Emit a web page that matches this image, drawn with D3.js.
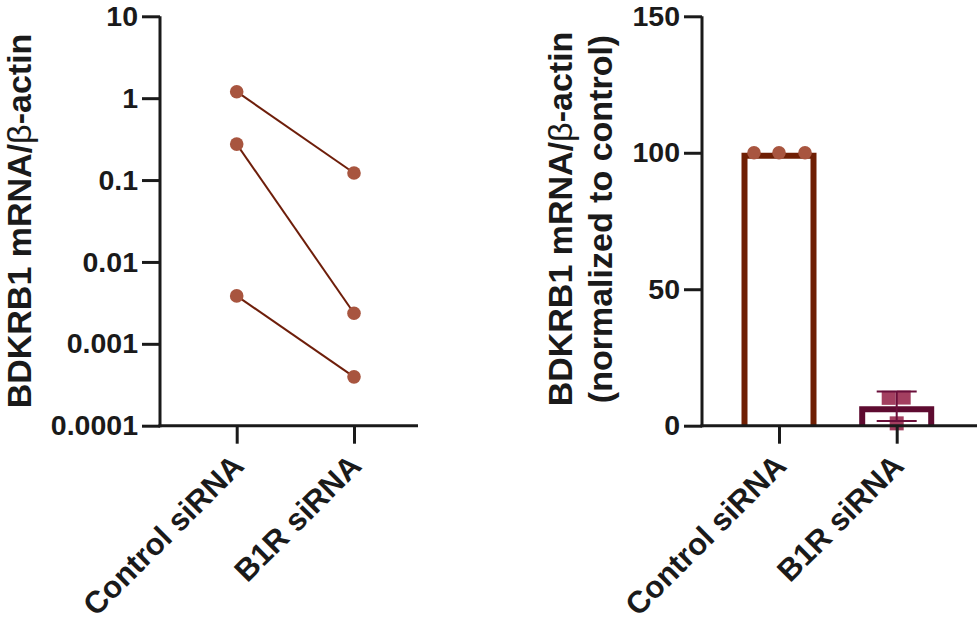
<!DOCTYPE html>
<html>
<head>
<meta charset="utf-8">
<script src="https://cdn.jsdelivr.net/npm/d3@7"></script>
<style>
  html, body { margin: 0; padding: 0; background: #fff; }
  svg { display: block; font-family: "Liberation Sans", Arial, Helvetica, sans-serif; }
</style>
</head>
<body>
<svg id="chart" width="980" height="621"></svg>
<script>
// ---------- data ----------
const categories = ["Control siRNA", "B1R siRNA"];
// left panel: paired raw values (three experiments)
const controlRaw = [1.2, 0.275, 0.00385];
const b1rRaw = [0.122, 0.00236, 0.000395];
const logTickValues = [10, 1, 0.1, 0.01, 0.001, 0.0001];
const logTickLabels = ["10", "1", "0.1", "0.01", "0.001", "0.0001"];
// right panel: normalized values (% of control)
const controlNorm = [100, 100, 100];
const b1rNorm = [10.2, 0.86, 10.3];
const linTickValues = [0, 50, 100, 150];
const jitterControl = [-25, 0, 26];
const jitterB1R = [-8, 0, 7];

const svg = d3.select("#chart");
const tickFont = 28.5, catFont = 31, labelFont = 34;
const axisColor = "#1a1a1a";

function styleAxis(g) {
  g.selectAll("path.domain").remove();
  g.selectAll("line").attr("stroke", axisColor).attr("stroke-width", 3);
  g.selectAll("text").attr("font-size", tickFont).attr("font-weight", "bold").attr("fill", axisColor);
}

function catLabels(g, xs, yAxis) {
  g.selectAll("text.cat").data(categories).join("text")
    .attr("class", "cat")
    .attr("transform", d => `translate(${xs(d) + 9},${yAxis + 42}) rotate(-45)`)
    .attr("text-anchor", "end")
    .attr("font-size", catFont).attr("font-weight", "bold").attr("fill", axisColor)
    .text(d => d);
}

function yLabel(g, x, yc, lines) {
  const t = g.append("text")
    .attr("transform", `translate(${x},${yc}) rotate(-90)`)
    .attr("text-anchor", "middle")
    .attr("font-size", labelFont).attr("font-weight", "bold").attr("fill", axisColor);
  lines.forEach((ln, i) => {
    const ts = t.append("tspan").attr("x", 0).attr("dy", i === 0 ? 0 : 40);
    ts.append("tspan").text(ln[0]);
    if (ln.length > 1) {
      ts.append("tspan").attr("font-weight", "normal").text(ln[1]);
      ts.append("tspan").text(ln[2]);
    }
  });
}

// ---------- left panel (log scale) ----------
{
  const x0 = 160, x1 = 418, yTop = 16.3, yBot = 425.7;
  const y = d3.scaleLog().domain([1e-4, 10]).range([yBot, yTop]);
  const x = d3.scalePoint().domain(categories).range([236.7, 354]);
  const g = svg.append("g");

  g.append("line").attr("x1", x0).attr("x2", x0).attr("y1", yTop).attr("y2", yBot + 1.5)
    .attr("stroke", axisColor).attr("stroke-width", 3);
  g.append("line").attr("x1", x0 - 1.5).attr("x2", x1).attr("y1", yBot).attr("y2", yBot)
    .attr("stroke", axisColor).attr("stroke-width", 3);

  const ya = g.append("g").attr("transform", `translate(${x0},0)`)
    .call(d3.axisLeft(y).tickValues(logTickValues).tickFormat((d, i) => logTickLabels[i]).tickSize(18).tickPadding(4));
  styleAxis(ya);
  const xa = g.append("g").attr("transform", `translate(0,${yBot})`)
    .call(d3.axisBottom(x).tickSize(18).tickFormat(""));
  styleAxis(xa);
  catLabels(g, x, yBot);

  controlRaw.forEach((c, i) => {
    g.append("line")
      .attr("x1", x(categories[0])).attr("y1", y(c))
      .attr("x2", x(categories[1])).attr("y2", y(b1rRaw[i]))
      .attr("stroke", "#6e1e0a").attr("stroke-width", 2);
  });
  const pts = controlRaw.map(v => [categories[0], v]).concat(b1rRaw.map(v => [categories[1], v]));
  g.selectAll("circle.pt").data(pts).join("circle")
    .attr("cx", d => x(d[0])).attr("cy", d => y(d[1])).attr("r", 6.8)
    .attr("fill", "#a8553f");

  yLabel(g, 31, 221, [["BDKRB1 mRNA/", "β", "-actin"]]);
}

// ---------- right panel (linear) ----------
{
  const x0 = 702, x1 = 977, yTop = 16.3, yBot = 425.7;
  const y = d3.scaleLinear().domain([0, 150]).range([yBot, yTop]);
  const x = d3.scalePoint().domain(categories).range([779, 896.7]);
  const g = svg.append("g");
  const barW = 75, sw = 6;

  const means = [d3.mean(controlNorm), d3.mean(b1rNorm)];
  const sds = [d3.deviation(controlNorm) || 0, d3.deviation(b1rNorm)];
  const barColors = ["#6f1f04", "#5e0b30"];

  // bars: open outline (stroke inside), bottom covered by axis
  means.forEach((m, i) => {
    const cx = x(categories[i]);
    const l = cx - barW / 2 + sw / 2, r = cx + barW / 2 - sw / 2, t = y(m) + sw / 2;
    g.append("path")
      .attr("d", `M${l},${yBot}V${t}H${r}V${yBot}`)
      .attr("fill", "none").attr("stroke", barColors[i]).attr("stroke-width", sw)
      .attr("stroke-linejoin", "miter");
  });

  g.selectAll("circle.pt").data(controlNorm).join("circle")
    .attr("cx", (d, i) => x(categories[0]) + jitterControl[i]).attr("cy", d => y(d)).attr("r", 6.8)
    .attr("fill", "#a8553f");
  const sq = 14;
  g.selectAll("rect.pt").data(b1rNorm).join("rect")
    .attr("x", (d, i) => x(categories[1]) + jitterB1R[i] - sq / 2).attr("y", d => y(d) - sq / 2)
    .attr("width", sq).attr("height", sq).attr("fill", "#a33f60");

  {
    const cx = x(categories[1]), m = means[1], s = sds[1];
    const ec = "#6a0f3a";
    g.append("line").attr("x1", cx).attr("x2", cx).attr("y1", y(m + s)).attr("y2", y(m - s))
      .attr("stroke", ec).attr("stroke-width", 2);
    [m + s, m - s].forEach(v => {
      g.append("line").attr("x1", cx - 20).attr("x2", cx + 20).attr("y1", y(v)).attr("y2", y(v))
        .attr("stroke", ec).attr("stroke-width", 2);
    });
  }

  g.append("line").attr("x1", x0).attr("x2", x0).attr("y1", yTop).attr("y2", yBot + 1.5)
    .attr("stroke", axisColor).attr("stroke-width", 3);
  g.append("line").attr("x1", x0 - 1.5).attr("x2", x1).attr("y1", yBot).attr("y2", yBot)
    .attr("stroke", axisColor).attr("stroke-width", 3);
  const ya = g.append("g").attr("transform", `translate(${x0},0)`)
    .call(d3.axisLeft(y).tickValues(linTickValues).tickFormat(d3.format("d")).tickSize(18).tickPadding(4));
  styleAxis(ya);
  const xa = g.append("g").attr("transform", `translate(0,${yBot})`)
    .call(d3.axisBottom(x).tickSize(18).tickFormat(""));
  styleAxis(xa);
  catLabels(g, x, yBot);

  yLabel(g, 572, 219, [["BDKRB1 mRNA/", "β", "-actin"], ["(normalized to control)"]]);
}
</script>
</body>
</html>
